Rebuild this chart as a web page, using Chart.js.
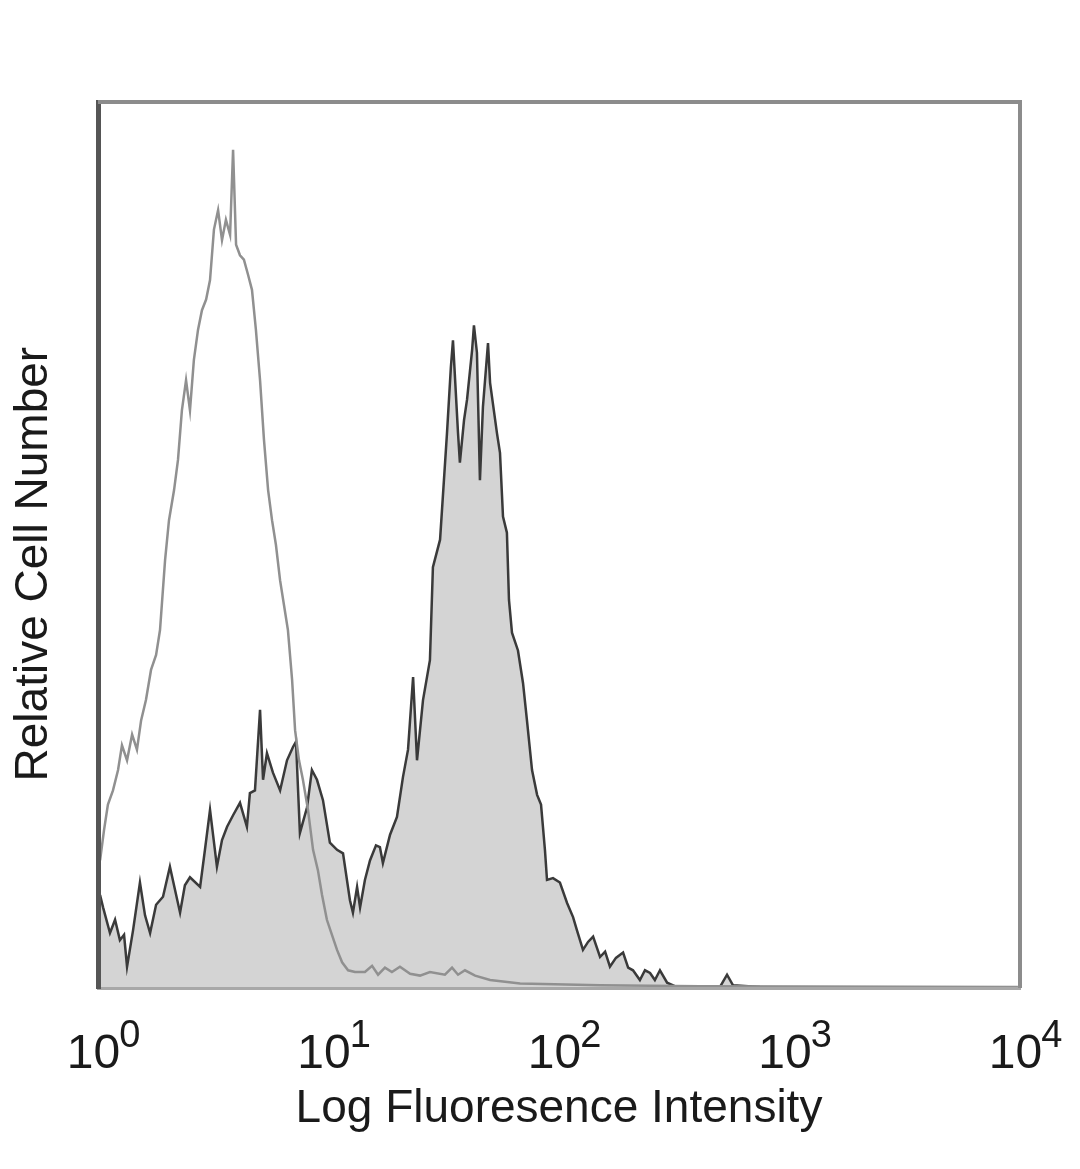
<!DOCTYPE html>
<html>
<head>
<meta charset="utf-8">
<script src="https://cdn.jsdelivr.net/npm/chart.js@4.4.1/dist/chart.umd.min.js"></script>
<style>
    body { margin: 0; background: #fff; }
    canvas { display: block; }
</style>
</head>
<body>
<canvas id="histo" width="1080" height="1169"></canvas>
<script>
// x values are log10 of the intensity (decades), y is relative cell count
let decades = [0, 1, 2, 3, 4]

let controlX = [0.009, 0.026, 0.043, 0.065, 0.087, 0.104, 0.126, 0.148, 0.169, 0.187,
    0.208, 0.230, 0.252, 0.269, 0.291, 0.308, 0.330, 0.347, 0.364, 0.382,
    0.399, 0.416, 0.434, 0.451, 0.469, 0.486, 0.503, 0.521, 0.538, 0.555,
    0.573, 0.586, 0.599, 0.616, 0.633, 0.651, 0.668, 0.685, 0.703, 0.720,
    0.738, 0.755, 0.772, 0.790, 0.807, 0.824, 0.842, 0.855, 0.872, 0.889,
    0.911, 0.933, 0.954, 0.972, 0.993, 1.015, 1.037, 1.059, 1.085, 1.115,
    1.158, 1.189, 1.215, 1.245, 1.275, 1.310, 1.354, 1.397, 1.440, 1.505,
    1.536, 1.562, 1.592, 1.636, 1.701, 1.831, 2.178, 2.612, 3.991]
let controlY = [14.4, 17.8, 20.7, 22.3, 24.6, 27.4, 25.7, 28.6, 26.9, 30.2,
    32.5, 35.9, 37.6, 40.4, 48.3, 52.8, 56.2, 59.6, 65.2, 68.6,
    65.2, 70.9, 74.3, 76.5, 77.7, 79.9, 85.6, 87.8, 84.4, 86.7,
    85.0, 94.6, 83.9, 82.7, 82.2, 80.5, 78.8, 74.3, 68.6, 61.9,
    56.2, 52.8, 50.0, 46.0, 43.2, 40.4, 34.8, 29.1, 25.7, 23.5,
    20.1, 15.6, 13.3, 10.5, 7.7, 6.0, 4.3, 2.9, 2.0, 1.8,
    1.8, 2.5, 1.5, 2.3, 1.8, 2.4, 1.6, 1.4, 1.8, 1.5,
    2.3, 1.5, 2.0, 1.4, 0.9, 0.5, 0.3, 0.2, 0.1]

let sampleX = [0.009, 0.022, 0.052, 0.074, 0.095, 0.113, 0.126, 0.152, 0.182, 0.204,
    0.226, 0.252, 0.282, 0.312, 0.356, 0.377, 0.399, 0.443, 0.464, 0.486,
    0.516, 0.538, 0.560, 0.586, 0.616, 0.646, 0.659, 0.681, 0.703, 0.716,
    0.733, 0.759, 0.790, 0.820, 0.846, 0.859, 0.876, 0.907, 0.928, 0.950,
    0.976, 1.006, 1.037, 1.063, 1.093, 1.106, 1.124, 1.137, 1.158, 1.180,
    1.206, 1.223, 1.236, 1.267, 1.297, 1.323, 1.345, 1.367, 1.384, 1.410,
    1.440, 1.453, 1.484, 1.514, 1.531, 1.540, 1.562, 1.570, 1.588, 1.601,
    1.623, 1.631, 1.644, 1.657, 1.670, 1.692, 1.701, 1.731, 1.744, 1.757,
    1.774, 1.783, 1.796, 1.822, 1.844, 1.861, 1.883, 1.905, 1.922, 1.939,
    1.948, 1.974, 2.004, 2.035, 2.061, 2.078, 2.104, 2.126, 2.148, 2.178,
    2.200, 2.221, 2.247, 2.278, 2.300, 2.321, 2.351, 2.373, 2.395, 2.416,
    2.438, 2.469, 2.512, 2.568, 2.612, 2.698, 2.729, 2.755, 2.872, 3.991]
let sampleY = [10.5, 9.1, 6.2, 7.7, 5.4, 6.0, 2.4, 6.5, 11.9, 8.2,
    6.2, 9.4, 10.3, 13.7, 8.5, 11.6, 12.5, 11.4, 15.6, 20.1,
    13.7, 16.7, 18.2, 19.5, 20.9, 18.2, 22.0, 22.3, 31.4, 23.5,
    26.5, 24.3, 22.3, 25.7, 27.2, 27.8, 17.5, 20.4, 24.6, 23.5,
    21.2, 16.4, 15.6, 15.2, 9.9, 8.5, 11.4, 9.1, 12.2, 14.4,
    16.1, 15.9, 14.1, 17.3, 19.3, 23.8, 26.9, 35.1, 25.7, 32.5,
    37.0, 47.5, 50.6, 62.6, 70.1, 73.1, 62.6, 59.3, 64.1, 66.4,
    72.0, 74.8, 71.7, 57.3, 65.6, 72.8, 68.3, 62.6, 60.4, 53.2,
    51.4, 43.8, 40.1, 38.1, 34.4, 30.2, 24.6, 21.8, 20.7, 15.6,
    12.2, 12.4, 11.9, 9.6, 8.0, 6.5, 4.3, 5.2, 5.8, 3.5,
    4.1, 2.4, 3.4, 4.0, 2.3, 2.0, 0.9, 2.0, 1.7, 0.9,
    2.0, 0.6, 0.1, 0.1, 0.2, 0.1, 1.5, 0.3, 0.1, 0]

function toPoints(xs, ys) {
    return xs.map((x, i) => ({ x: x, y: ys[i] }))
}

let fontName = '"Liberation Sans", Arial, sans-serif'

// frame on top and right, plus the 10^n labels under the x axis
let framePlugin = {
    id: 'frame',
    afterDraw(chart) {
        let c = chart.ctx
        let a = chart.chartArea
        c.save()
        c.strokeStyle = '#8c8c8c'
        c.lineWidth = 4
        c.beginPath()
        c.moveTo(a.left, a.top)
        c.lineTo(a.right, a.top)
        c.lineTo(a.right, a.bottom)
        c.stroke()

        let xs = chart.scales.x
        c.fillStyle = '#1a1a1a'
        c.textBaseline = 'alphabetic'
        c.textAlign = 'left'
        xs.ticks.forEach(t => {
            let px = xs.getPixelForValue(t.value)
            let exp = String(t.value)
            c.font = '48px ' + fontName
            let w1 = c.measureText('10').width
            c.font = '38px ' + fontName
            let w2 = c.measureText(exp).width
            let start = px - (w1 + w2) / 2 + 6
            c.font = '48px ' + fontName
            c.fillText('10', start, 1068)
            c.font = '38px ' + fontName
            c.fillText(exp, start + w1 - 1, 1047)
        })
        c.restore()
    }
}

let ctx = document.getElementById('histo').getContext('2d')

let histo = new Chart(ctx, {
    type: 'line',
    data: {
        datasets: [{
            label: 'Control',
            data: toPoints(controlX, controlY),
            borderColor: '#909090',
            borderWidth: 2.5,
            fill: false,
            pointRadius: 0,
            tension: 0
        }, {
            label: 'Stained',
            data: toPoints(sampleX, sampleY),
            borderColor: '#3a3a3a',
            backgroundColor: '#d4d4d4',
            borderWidth: 2.5,
            fill: 'origin',
            pointRadius: 0,
            tension: 0
        }]
    },
    options: {
        responsive: false,
        animation: false,
        layout: {
            padding: { top: 102, right: 60, left: 0, bottom: 0 }
        },
        plugins: {
            legend: { display: false },
            tooltip: { enabled: false }
        },
        scales: {
            x: {
                type: 'linear',
                min: 0,
                max: 4,
                afterBuildTicks: s => { s.ticks = decades.map(v => ({ value: v })) },
                afterFit: s => { s.height = 181 },
                grid: { display: false },
                border: { color: '#a8a8a8', width: 3, dash: [4, 6], z: 1 },
                ticks: { display: false },
                title: {
                    display: true,
                    text: 'Log Fluoresence Intensity',
                    color: '#1a1a1a',
                    font: { family: fontName, size: 46 },
                    padding: { top: 0, bottom: 32 }
                }
            },
            y: {
                min: 0,
                max: 100,
                afterFit: s => { s.width = 98 },
                grid: { display: false },
                border: { color: '#555', width: 5, z: 1 },
                ticks: { display: false },
                title: {
                    display: true,
                    text: 'Relative Cell Number   ',
                    color: '#1a1a1a',
                    font: { family: fontName, size: 46 },
                    padding: { top: 7, bottom: 0 }
                }
            }
        }
    },
    plugins: [framePlugin]
})
</script>
</body>
</html>
